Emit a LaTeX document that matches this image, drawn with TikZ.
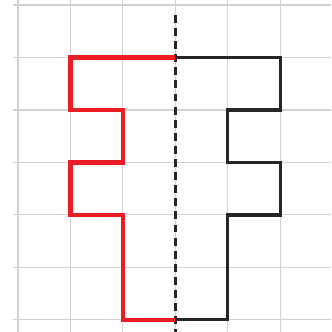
\documentclass[tikz,border=0pt]{standalone}
\definecolor{figred}{RGB}{236,28,36}
\definecolor{gridgray}{RGB}{210,210,212}
\begin{document}
\begin{tikzpicture}[
    gridline/.style={gridgray, line width=0.6pt},
    lefthalf/.style={figred, line width=2.5pt, line join=miter},
    righthalf/.style={black!85, line width=1.7pt, line join=miter},
    axisline/.style={black!85, line width=1.4pt, dash pattern=on 4.3pt off 2.8pt}]
      \useasboundingbox (-0.342,-0.23) rectangle (5.97,6.095);
      \foreach \i in {0,...,5}
        \draw[gridline] (\i,-0.23) -- (\i,6.095);
      \foreach \j in {0,...,6}
        \draw[gridline] (-0.1,\j) -- (5.97,\j);
      \coordinate (top) at (3,5);
      \coordinate (bottom) at (3,0);
      \draw[righthalf] (top) -- (5,5) -- (5,4) -- (4,4) -- (4,3) -- (5,3)
        -- (5,2) -- (4,2) -- (4,0) -- (bottom);
      \coordinate (axistop) at (3,5.81);
      \coordinate (axisbottom) at (3,-0.23);
      \draw[axisline] (axistop) -- (axisbottom);
      \draw[lefthalf] (top) -- (1,5) -- (1,4) -- (2,4) -- (2,3) -- (1,3)
        -- (1,2) -- (2,2) -- (2,0) -- (bottom);
    \end{tikzpicture}
\end{document}
